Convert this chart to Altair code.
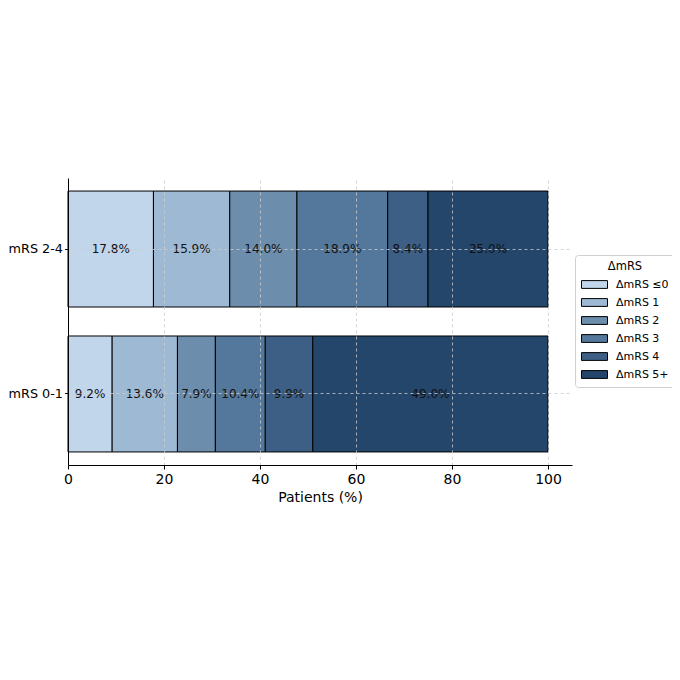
import altair as alt
import pandas as pd

groups = ["mRS 2-4", "mRS 0-1"]
categories = ["ΔmRS ≤0", "ΔmRS 1", "ΔmRS 2", "ΔmRS 3", "ΔmRS 4", "ΔmRS 5+"]
values_24 = [17.8, 15.9, 14.0, 18.9, 8.4, 25.0]
values_01 = [9.2, 13.6, 7.9, 10.4, 9.9, 49.0]
colors = ["#c1d5eb", "#9eb9d3", "#6c8dab", "#54789b", "#3d5f85", "#24466b"]
x_ticks = [0, 20, 40, 60, 80, 100]

rows = []
for g, vals in zip(groups, [values_24, values_01]):
    for i, (c, v) in enumerate(zip(categories, vals)):
        rows.append({"group": g, "cat": c, "order": i, "value": v,
                     "label": f"{v:.1f}%"})
df = pd.DataFrame(rows)

FONT = "DejaVu Sans"

base = alt.Chart(df).transform_stack(
    stack="value", groupby=["group"], as_=["x0", "x1"],
    sort=[alt.SortField("order", order="ascending")]
).transform_calculate(mid="(datum.x0 + datum.x1) / 2")

yenc = alt.Y("group:N", sort=groups, title=None,
             scale=alt.Scale(paddingInner=0.2, paddingOuter=0.09),
             axis=alt.Axis(bandPosition=0.5, labelFontSize=12.8, labelColor="black",
                           tickColor="black", tickSize=3.5, labelPadding=2,
                           domainColor="black", grid=True, gridDash=[3, 3],
                           gridColor="#cccccc", gridWidth=0.8, zindex=1))

bars = base.mark_bar(stroke="black", strokeWidth=1).encode(
    x=alt.X("x0:Q", scale=alt.Scale(domain=[0, 105], nice=False, zero=False),
            title="Patients (%)",
            axis=alt.Axis(values=x_ticks, labelFontSize=14, labelColor="black",
                          labelFlush=False, labelOverlap=False,
                          titleFontSize=14, titleFontWeight="normal", titleColor="black",
                          titlePadding=4, tickColor="black", tickSize=4,
                          labelPadding=3, domainColor="black", grid=True,
                          gridDash=[3, 3], gridColor="#cccccc", gridWidth=0.8,
                          zindex=1)),
    x2="x1:Q",
    y=yenc,
    color=alt.Color("cat:N", sort=categories,
                    scale=alt.Scale(domain=categories, range=colors),
                    legend=alt.Legend(
                        title="ΔmRS", orient="none", legendX=507, legendY=77,
                        titleAnchor="middle", titleFontWeight="normal",
                        titleFontSize=11.5, titleColor="black", titlePadding=5,
                        labelFontSize=11, labelColor="black",
                        symbolType="M-1,-0.6H3V0.6H-1Z", symbolSize=169,
                        symbolStrokeColor="black", symbolStrokeWidth=1,
                        symbolOpacity=1, labelOffset=21, rowPadding=5,
                        padding=6, strokeColor="#d0d0d0", fillColor="white",
                        cornerRadius=3)),
    order=alt.Order("order:Q"),
)

texts = base.mark_text(fontSize=12, color="#111111", font=FONT).encode(
    x="mid:Q",
    y=alt.Y("group:N", sort=groups),
    text="label:N",
)

chart = alt.layer(bars, texts).properties(
    width=504, height=287,
    autosize=alt.AutoSizeParams(type="none"),
    padding={"left": 60, "top": 170, "right": 100, "bottom": 207},
).configure(font=FONT).configure_view(stroke=None)

chart.save("out.html", embed_options={"renderer": "svg", "actions": False})
